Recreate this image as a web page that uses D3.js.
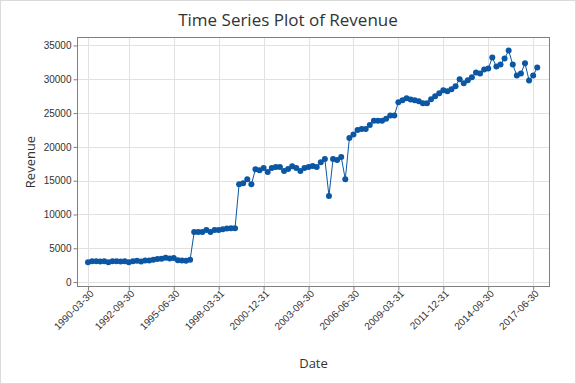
<!DOCTYPE html>
<html>
<head>
<meta charset="utf-8">
<script src="https://cdn.jsdelivr.net/npm/d3@7"></script>
<style>
  html, body { margin: 0; padding: 0; background: #fff; }
  svg { display: block; font-family: "Open Sans", "Noto Sans", sans-serif; }
</style>
</head>
<body>
<svg id="chart" width="576" height="384"></svg>
<script>
// quarterly revenue, 1990 Q1 .. 2017 Q3
const revenue = [
  2950, 3100, 3100, 3050, 3100, 2950, 3100, 3100, 3050, 3100,
  2950, 3100, 3150, 3050, 3200, 3200, 3300, 3400, 3450, 3600,
  3500, 3550, 3250, 3200, 3150, 3300,
  7400, 7400, 7420, 7720, 7420, 7720, 7720, 7820, 7920, 7970, 7970,
  14470, 14610, 15200, 14470, 16680, 16530, 16870, 16280, 16870, 17020,
  17020, 16430, 16720, 17120, 16870, 16430, 16870, 17020, 17170, 17020,
  17720, 18200, 12740, 18200, 18050, 18500, 15200,
  21300, 21850, 22480, 22630, 22630, 23220, 23860, 23860, 23860, 24150,
  24650, 24650,
  26620, 26910, 27200, 27010, 26910, 26760, 26470, 26470, 27060, 27500,
  27950, 28390, 28240, 28540, 28980, 30020, 29420, 29870, 30310, 31000,
  30850, 31440, 31590, 33210, 31890, 32180, 33070, 34250, 32180, 30560,
  30850, 32370, 29820, 30560, 31740
];

const tickIndex = [0, 10, 21, 32, 43, 54, 65, 76, 87, 98, 109];
const tickLabels = [
  "1990-03-30", "1992-09-30", "1995-06-30", "1998-03-31", "2000-12-31",
  "2003-09-30", "2006-06-30", "2009-03-31", "2011-12-31", "2014-09-30", "2017-06-30"
];
const yTicks = [0, 5000, 10000, 15000, 20000, 25000, 30000, 35000];

const svg = d3.select("#chart");
const W = 576, H = 384;
const frame = { left: 77.5, right: 549.5, top: 37.5, bottom: 286.5 };
const lineColor = "#0b57a4";
const gridColor = "#e1e1e1";
const axisColor = "#7f7f7f";
const textColor = "#333";

// outer border
svg.append("rect")
  .attr("x", 0.5).attr("y", 0.5)
  .attr("width", W - 1).attr("height", H - 1)
  .attr("fill", "#fff").attr("stroke", "#dadada");

const x = d3.scaleLinear().domain([-2.57, 113]).range([frame.left, frame.right]);
const y = d3.scaleLinear().domain([-650, 36180]).range([frame.bottom, frame.top]);

// grid
const grid = svg.append("g");
grid.selectAll("line.gx").data(tickIndex).join("line")
  .attr("class", "gx")
  .attr("x1", d => Math.round(x(d)) + 0.5).attr("x2", d => Math.round(x(d)) + 0.5)
  .attr("y1", frame.top).attr("y2", frame.bottom)
  .attr("stroke", gridColor);
grid.selectAll("line.gy").data(yTicks).join("line")
  .attr("class", "gy")
  .attr("y1", d => Math.round(y(d)) + 0.5).attr("y2", d => Math.round(y(d)) + 0.5)
  .attr("x1", frame.left).attr("x2", frame.right)
  .attr("stroke", gridColor);

// frame
svg.append("rect")
  .attr("x", frame.left).attr("y", frame.top)
  .attr("width", frame.right - frame.left).attr("height", frame.bottom - frame.top)
  .attr("fill", "none").attr("stroke", axisColor);

// y axis
const yAxis = svg.append("g")
  .attr("transform", `translate(${frame.left},0)`)
  .call(d3.axisLeft(y).tickValues(yTicks).tickFormat(d3.format("d")).tickSize(4).tickSizeOuter(0));
yAxis.select(".domain").remove();
yAxis.selectAll("line").attr("stroke", axisColor);
yAxis.selectAll("text").attr("fill", textColor).style("font-size", "10px").attr("x", -6);

// x axis
const xAxis = svg.append("g")
  .attr("transform", `translate(0,${frame.bottom})`)
  .call(d3.axisBottom(x).tickValues(tickIndex).tickFormat((d, i) => tickLabels[i]).tickSize(4).tickSizeOuter(0));
xAxis.select(".domain").remove();
xAxis.selectAll("line").attr("stroke", axisColor);
xAxis.selectAll("text")
  .attr("fill", textColor)
  .style("font-size", "10px")
  .attr("text-anchor", "end")
  .attr("dy", null)
  .attr("transform", "translate(4,6) rotate(-45)")
  .attr("y", 0).attr("x", 0)
  .attr("dominant-baseline", "middle");

// line + points
const line = d3.line().x((d, i) => x(i)).y(d => y(d));
svg.append("path")
  .datum(revenue)
  .attr("d", line)
  .attr("fill", "none")
  .attr("stroke", lineColor)
  .attr("stroke-width", 1);
svg.append("g").selectAll("circle").data(revenue).join("circle")
  .attr("cx", (d, i) => x(i))
  .attr("cy", d => y(d))
  .attr("r", 3)
  .attr("fill", lineColor);

// titles
svg.append("text")
  .attr("x", 288).attr("y", 26)
  .attr("text-anchor", "middle")
  .attr("fill", textColor)
  .style("font-size", "17px")
  .text("Time Series Plot of Revenue");
svg.append("text")
  .attr("x", (frame.left + frame.right) / 2).attr("y", 368)
  .attr("text-anchor", "middle")
  .attr("fill", textColor)
  .style("font-size", "13px")
  .text("Date");
svg.append("text")
  .attr("transform", `translate(35,${(frame.top + frame.bottom) / 2}) rotate(-90)`)
  .attr("text-anchor", "middle")
  .attr("fill", textColor)
  .style("font-size", "13px")
  .text("Revenue");
</script>
</body>
</html>
